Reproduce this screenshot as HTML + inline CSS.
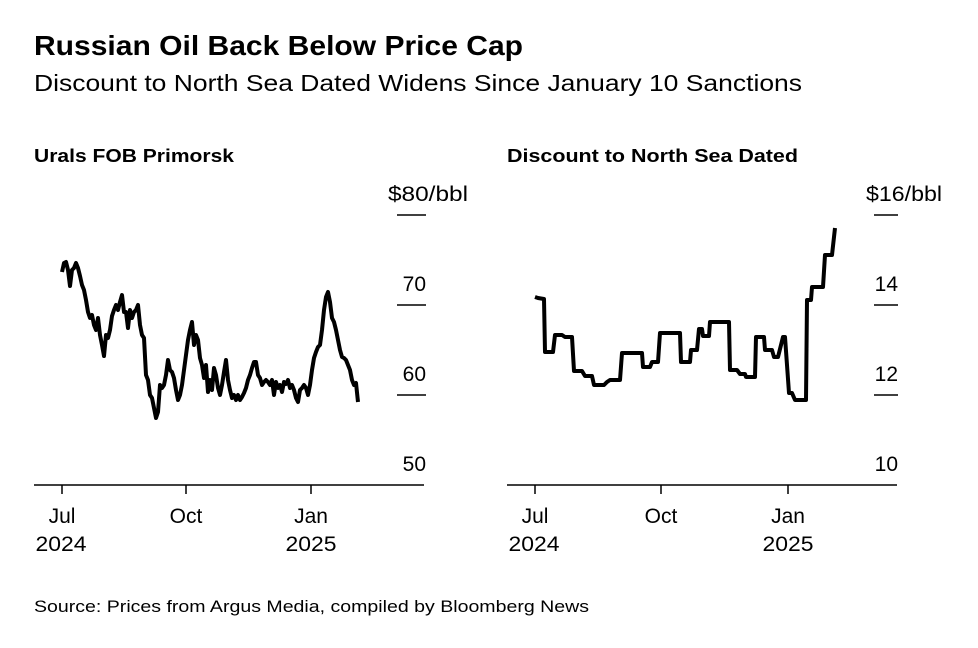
<!DOCTYPE html>
<html><head><meta charset="utf-8"><style>
body{margin:0;background:#fff;width:978px;height:648px;overflow:hidden}
svg{display:block}
text{font-family:"Liberation Sans",sans-serif;fill:#000}
</style></head><body>
<svg width="978" height="648" viewBox="0 0 978 648">
<text x="34" y="55" font-size="28" font-weight="bold" textLength="489" lengthAdjust="spacingAndGlyphs">Russian Oil Back Below Price Cap</text>
<text x="34" y="91" font-size="23" textLength="768" lengthAdjust="spacingAndGlyphs">Discount to North Sea Dated Widens Since January 10 Sanctions</text>
<text x="34" y="162" font-size="18" font-weight="bold" textLength="200" lengthAdjust="spacingAndGlyphs">Urals FOB Primorsk</text>
<text x="507" y="162" font-size="18" font-weight="bold" textLength="291" lengthAdjust="spacingAndGlyphs">Discount to North Sea Dated</text>
<g font-size="21" text-anchor="end">
<text x="468" y="201" textLength="80" lengthAdjust="spacingAndGlyphs">$80/bbl</text><text x="426" y="291">70</text><text x="426" y="381">60</text><text x="426" y="471">50</text>
<text x="942" y="201" textLength="76" lengthAdjust="spacingAndGlyphs">$16/bbl</text><text x="898" y="291">14</text><text x="898" y="381">12</text><text x="898" y="471">10</text>
</g>
<g stroke="#000" stroke-width="1.5">
<line x1="397" y1="215" x2="426" y2="215"/><line x1="397" y1="305" x2="426" y2="305"/><line x1="397" y1="395" x2="426" y2="395"/>
<line x1="874" y1="215" x2="898" y2="215"/><line x1="874" y1="305" x2="898" y2="305"/><line x1="874" y1="395" x2="898" y2="395"/>
<line x1="34" y1="485" x2="424" y2="485"/><line x1="507" y1="485" x2="897" y2="485"/>
<line x1="62" y1="485" x2="62" y2="494"/><line x1="186" y1="485" x2="186" y2="494"/><line x1="311" y1="485" x2="311" y2="494"/>
<line x1="535" y1="485" x2="535" y2="494"/><line x1="661" y1="485" x2="661" y2="494"/><line x1="788" y1="485" x2="788" y2="494"/>
</g>
<g font-size="21" text-anchor="middle">
<text x="62" y="523">Jul</text><text x="61" y="551" textLength="51" lengthAdjust="spacingAndGlyphs">2024</text><text x="186" y="523">Oct</text><text x="311" y="523">Jan</text><text x="311" y="551" textLength="51" lengthAdjust="spacingAndGlyphs">2025</text>
<text x="535" y="523">Jul</text><text x="534" y="551" textLength="51" lengthAdjust="spacingAndGlyphs">2024</text><text x="661" y="523">Oct</text><text x="788" y="523">Jan</text><text x="788" y="551" textLength="51" lengthAdjust="spacingAndGlyphs">2025</text>
</g>
<polyline fill="none" stroke="#000" stroke-width="4" stroke-linejoin="round" points="62,272 64,263 66,262 68,270 70,286 72,270 74,268 76,263 78,268 80,276 82,285 84,290 86,300 88,312 90,318 92,315 94,325 96,330 98,318 100,335 102,345 104,356 106,335 108,338 110,330 112,316 114,310 116,305 118,310 120,302 122,295 124,312 126,312 128,328 130,310 132,318 134,312 136,310 138,305 140,325 142,335 144,338 146,375 148,380 150,395 152,398 154,408 156,418 158,412 160,385 162,388 164,385 166,375 168,360 170,370 172,372 174,378 176,390 178,400 180,395 182,385 184,370 186,355 188,340 190,330 192,322 194,345 196,335 198,340 200,358 202,365 204,378 206,365 208,392 210,380 212,390 214,368 216,375 218,388 220,395 222,385 224,372 226,360 228,380 230,390 232,398 234,395 236,400 238,395 240,400 242,397 244,393 246,388 248,380 250,375 252,368 254,362 256,362 258,375 260,378 262,385 264,382 266,380 268,382 270,385 272,380 274,395 276,382 278,388 280,385 282,392 284,382 286,384 288,380 290,388 292,385 294,390 296,398 298,402 300,390 302,388 304,385 306,388 308,395 310,385 312,370 314,358 316,352 318,347 320,345 322,330 324,310 326,297 328,292 330,302 332,318 334,322 336,330 338,340 340,350 342,357 344,358 346,360 348,365 350,370 352,380 354,385 356,383 358,402"/>
<polyline fill="none" stroke="#000" stroke-width="4" stroke-linejoin="round" points="535,297 538,298 544,299 545,352 553,352 555,335 562,335 565,337 572,337 574,371 582,371 585,376 592,376 594,385 604,385 607,382 610,380 620,380 622,353 642,353 643,367 650,367 652,362 658,362 660,333 680,333 681,362 690,362 691,350 697,350 699,329 702,329 703,336 709,336 710,322 729,322 730,370 737,370 740,374 745,374 746,377 755,377 756,337 764,337 765,350 772,350 774,357 778,357 783,337 785,337 789,393 792,393 795,400 806,400 807,300 811,300 812,287 823,287 825,255 832,255 835,228"/>
<text x="34" y="612" font-size="17" textLength="555" lengthAdjust="spacingAndGlyphs">Source: Prices from Argus Media, compiled by Bloomberg News</text>
</svg>
</body></html>
